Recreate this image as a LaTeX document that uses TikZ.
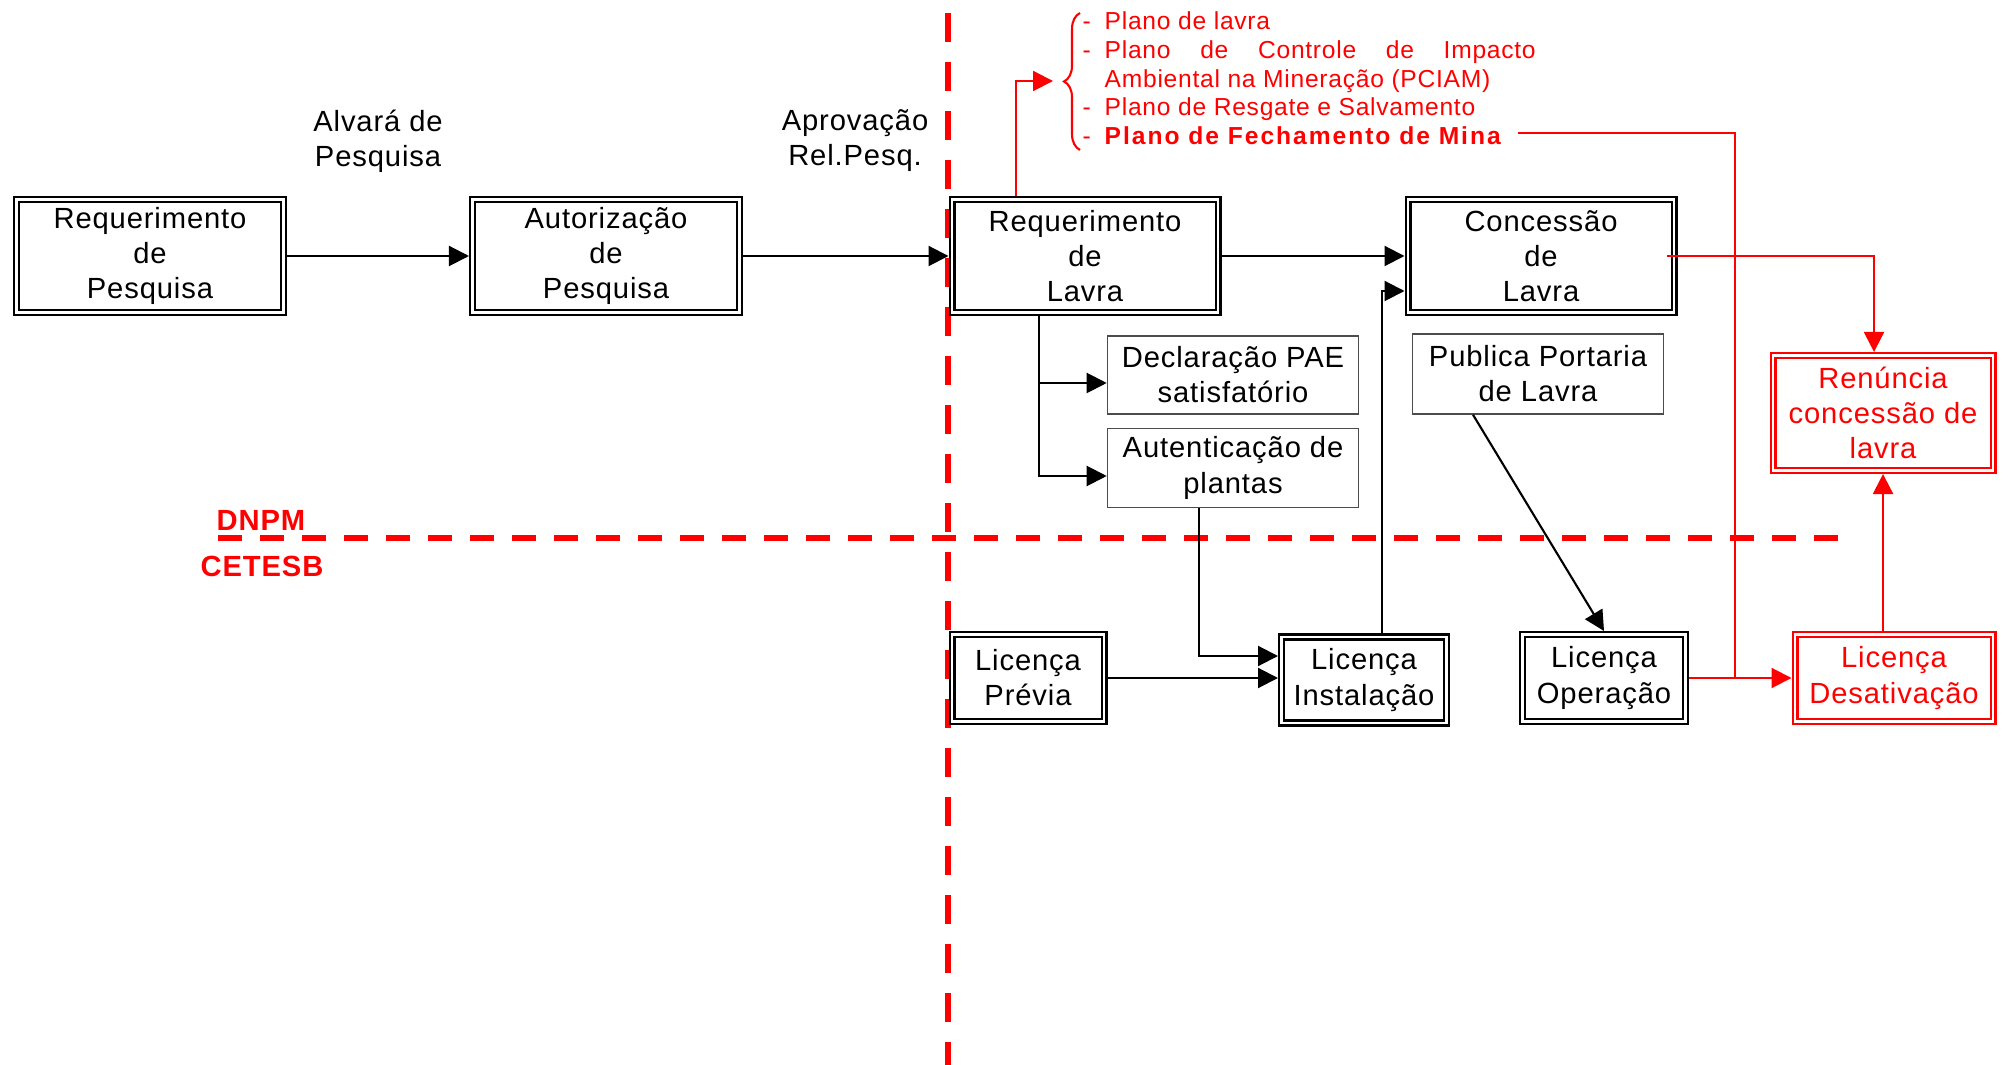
\documentclass[tikz,border=0pt]{standalone}
\usepackage{fontspec}
\setmainfont{Liberation Sans}[LetterSpace=3]
\usetikzlibrary{arrows.meta,positioning,calc,decorations.pathreplacing}
\newcommand{\traco}{\makebox[2.2mm][l]{-}}

\begin{document}
\begin{tikzpicture}[x=0.1mm, y=-0.1mm,
    font=\fontsize{8.3}{10}\selectfont,
    caixa/.style={draw, line width=0.7pt, double, double distance=0.6pt, outer sep=1pt, align=center, inner sep=0pt},
    caixav/.style={caixa, draw=red, text=red},
    simples/.style={draw=black!70, line width=0.45pt, align=center, inner sep=0pt},
    seta/.style={-{Triangle[length=2mm, width=2mm]}, line width=0.6pt},
    setav/.style={seta, red},
    divisa/.style={red, line width=1.6pt}]
    \useasboundingbox (0,0) rectangle (2008,1065);

    % Divisas DNPM / CETESB
    \draw[divisa, dash pattern=on 2.9mm off 2mm] (948,13) -- (948,1065);
    \draw[divisa, dash pattern=on 2.4mm off 1.8mm] (218,538) -- (1840,538);
    \node[red, font=\fontsize{8.3}{10}\selectfont\bfseries] (dnpm) at (261,520) {DNPM};
    \node[red, font=\fontsize{8.3}{10}\selectfont\bfseries] (cetesb) at (262,566) {CETESB};

    % Caixas do DNPM
    \node[caixa, minimum width=26.7mm, minimum height=11.3mm] (reqpesq) at (150,256) {Requerimento\\de\\Pesquisa};
    \node[caixa, minimum width=26.7mm, minimum height=11.3mm] (autpesq) at (606,256) {Autorização\\de\\Pesquisa};
    \node[caixa, minimum width=26.6mm, minimum height=11.3mm] (reqlavra) at (1085,256) {Requerimento\\de\\Lavra};
    \node[caixa, minimum width=26.6mm, minimum height=11.3mm] (concessao) at (1541,256) {Concessão\\de\\Lavra};
    \node[simples, minimum width=25.1mm, minimum height=7.8mm] (declaracao) at (1233,375) {Declaração PAE\\satisfatório};
    \node[simples, minimum width=25.1mm, minimum height=7.9mm] (autentic) at (1233,468) {Autenticação de\\plantas};
    \node[simples, minimum width=25.1mm, minimum height=8mm] (publica) at (1538,374) {Publica Portaria\\de Lavra};
    \node[caixav, minimum width=22mm, minimum height=11.5mm] (renuncia) at (1883,413) {Renúncia\\concessão de\\lavra};

    % Caixas da CETESB
    \node[caixa, minimum width=15.2mm, minimum height=8.7mm] (lprevia) at (1028,678) {Licença\\Prévia};
    \node[caixa, minimum width=16.5mm, minimum height=8.6mm] (linstal) at (1364,680) {Licença\\Instalação};
    \node[caixa, minimum width=16.3mm, minimum height=8.7mm] (loperacao) at (1604,678) {Licença\\Operação};
    \node[caixav, minimum width=19.8mm, minimum height=8.7mm] (ldesativ) at (1894,678) {Licença\\Desativação};

    % Rotulos das setas
    \node[align=center] (alvara) at (378,141) {Alvará de\\Pesquisa};
    \node[align=center] (aprovacao) at (855,141) {Aprovação\\Rel.Pesq.};

    % Planos exigidos
    \node[red, anchor=north west, inner sep=0pt, align=left, font=\fontsize{7}{8.2}\selectfont] (planos) at (1082,11) {%
        \traco Plano de lavra\\
        \traco\makebox[43.1mm][s]{Plano de Controle de Impacto}\\
        \hspace*{2.2mm}Ambiental na Mineração (PCIAM)\\
        \traco Plano de Resgate e Salvamento\\
        \traco{\addfontfeature{LetterSpace=8}\textbf{Plano de Fechamento de Mina}}};
    \draw[red, line width=0.6pt, decorate, decoration={brace, amplitude=1.6mm}] (1080,150) -- (1080,13);
    \coordinate (chave) at (1053,81);
    \coordinate (minafim) at (1518,133);
    \coordinate (juncao) at (1735,678);

    % Setas
    \draw[seta] (reqpesq) -- (autpesq);
    \draw[seta] (autpesq) -- (reqlavra);
    \draw[seta] (reqlavra) -- (concessao);
    \draw[seta] ($(reqlavra.south)+(-46,0)$) |- ($(declaracao.west)+(0,8)$);
    \draw[seta] ($(reqlavra.south)+(-46,0)$) |- ($(autentic.west)+(0,8)$);
    \draw[seta] ($(autentic.south)+(-34,0)$) |- ($(linstal.west)+(0,-24)$);
    \draw[seta] (lprevia.east) -- (lprevia.east -| linstal.west);
    \draw[seta] ($(linstal.north)+(18,0)$) |- ($(concessao.west)+(0,35)$);
    \draw[seta] ($(publica.south)+(-65,0)$) -- (loperacao.north);

    % Setas vermelhas
    \draw[setav] ($(reqlavra.north)+(-69,0)$) |- (chave);
    \draw[setav] ($(concessao.east)+(-11,0)$) -| ($(renuncia.north)+(-9,0)$);
    \draw[setav] (loperacao) -- (ldesativ);
    \draw[setav] (renuncia.south |- ldesativ.north) -- (renuncia.south);
    \draw[red, line width=0.6pt] (minafim) -| (juncao);
\end{tikzpicture}
\end{document}
